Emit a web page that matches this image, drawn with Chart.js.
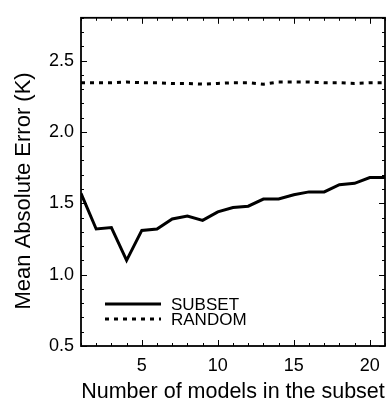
<!DOCTYPE html>
<html lang="en">
<head>
<meta charset="UTF-8">
<title>Mean Absolute Error vs number of models</title>
<script src="https://cdn.jsdelivr.net/npm/chart.js"></script>
<style>
    html, body { margin: 0; padding: 0; background: #ffffff; }
    .chart-box { width: 390px; height: 405px; }
</style>
</head>
<body>
<div class="chart-box"><canvas id="maeChart"></canvas></div>
<script>
// data
const modelCounts = [1, 2, 3, 4, 5, 6, 7, 8, 9, 10, 11, 12, 13, 14, 15, 16, 17, 18, 19, 20, 21];
const subsetMae = [1.57, 1.32, 1.33, 1.10, 1.31, 1.32, 1.39, 1.41, 1.38, 1.44, 1.47, 1.48, 1.53, 1.53, 1.56, 1.58, 1.58, 1.63, 1.64, 1.68, 1.68];
const randomMae = [2.345, 2.345, 2.345, 2.35, 2.345, 2.345, 2.34, 2.34, 2.335, 2.34, 2.345, 2.345, 2.335, 2.35, 2.35, 2.35, 2.345, 2.345, 2.34, 2.345, 2.345];
const seriesNames = ['SUBSET', 'RANDOM'];
const xTickValues = [5, 10, 15, 20];
const yTickValues = [0.5, 1.0, 1.5, 2.0, 2.5];
const yTitle = 'Mean Absolute Error (K)';

const FONT = "'Liberation Sans', Arial, sans-serif";

const toPoints = vals => vals.map((v, i) => ({ x: modelCounts[i], y: v }));

// box around the plot, inward ticks on all sides, legend inside the plot
const frameAndLegend = {
    id: 'frameAndLegend',
    afterDatasetsDraw(chart) {
        const { ctx, chartArea: a, scales: { x, y } } = chart;
        ctx.save();
        ctx.strokeStyle = '#000';
        ctx.lineWidth = 1;
        ctx.beginPath();
        for (let v = 1; v <= 21; v++) {
            const len = v % 5 === 0 ? 6 : 3;
            const px = Math.round(x.getPixelForValue(v)) + 0.5;
            ctx.moveTo(px, a.bottom); ctx.lineTo(px, a.bottom - len);
            ctx.moveTo(px, a.top); ctx.lineTo(px, a.top + len);
        }
        for (let i = 5; i <= 28; i++) {
            const len = i % 5 === 0 ? 6 : 3;
            const py = Math.round(y.getPixelForValue(i / 10)) + 0.5;
            ctx.moveTo(a.left, py); ctx.lineTo(a.left + len, py);
            ctx.moveTo(a.right, py); ctx.lineTo(a.right - len, py);
        }
        ctx.stroke();
        ctx.lineWidth = 1.8;
        ctx.strokeRect(a.left, a.top, a.right - a.left, a.bottom - a.top);

        // legend
        const rows = [a.bottom - 42, a.bottom - 27];
        chart.data.datasets.forEach((ds, i) => {
            ctx.beginPath();
            ctx.lineWidth = ds.borderWidth;
            ctx.setLineDash(ds.borderDash || []);
            ctx.moveTo(a.left + 24, rows[i]);
            ctx.lineTo(a.left + 80, rows[i]);
            ctx.stroke();
            ctx.setLineDash([]);
            ctx.fillStyle = '#000';
            ctx.font = '17px ' + FONT;
            ctx.textBaseline = 'middle';
            ctx.fillText(ds.label, a.left + 90, rows[i] + 1);
        });

        // y axis title, sits below the middle of the axis in the original
        ctx.translate(24, (a.top + a.bottom) / 2 + 9);
        ctx.rotate(-Math.PI / 2);
        ctx.font = '22px ' + FONT;
        ctx.textAlign = 'center';
        ctx.textBaseline = 'middle';
        ctx.fillText(yTitle, 0, 0);
        ctx.restore();
    }
};

new Chart(document.getElementById('maeChart'), {
    type: 'line',
    data: {
        datasets: [
            {
                label: seriesNames[0],
                data: toPoints(subsetMae),
                borderColor: '#000',
                borderWidth: 3,
                pointRadius: 0,
                tension: 0,
                borderJoinStyle: 'miter'
            },
            {
                label: seriesNames[1],
                data: toPoints(randomMae),
                borderColor: '#000',
                borderWidth: 3,
                borderDash: [4, 5],
                pointRadius: 0,
                tension: 0
            }
        ]
    },
    options: {
        responsive: true,
        maintainAspectRatio: false,
        animation: false,
        layout: { padding: { top: 10, right: 5, left: 0, bottom: 0 } },
        plugins: { legend: { display: false }, tooltip: { enabled: false } },
        scales: {
            x: {
                type: 'linear',
                min: 1,
                max: 21,
                afterBuildTicks: s => { s.ticks = xTickValues.map(v => ({ value: v })); },
                afterFit: s => { s.height = 59; },
                grid: { display: false, drawTicks: false },
                border: { display: false },
                ticks: {
                    color: '#000',
                    padding: 9,
                    font: { family: FONT, size: 18 },
                    maxRotation: 0,
                    callback: v => String(v)
                },
                title: {
                    display: true,
                    text: 'Number of models in the subset',
                    color: '#000',
                    font: { family: FONT, size: 21.5 },
                    padding: { top: 0, bottom: 0 }
                }
            },
            y: {
                min: 0.5,
                max: 2.8,
                afterBuildTicks: s => { s.ticks = yTickValues.map(v => ({ value: v })); },
                afterFit: s => { s.width = 81; },
                grid: { display: false, drawTicks: false },
                border: { display: false },
                ticks: {
                    color: '#000',
                    padding: 7,
                    font: { family: FONT, size: 18 },
                    callback: v => v.toFixed(1)
                },
                title: { display: false }
            }
        }
    },
    plugins: [frameAndLegend]
});
</script>
</body>
</html>
